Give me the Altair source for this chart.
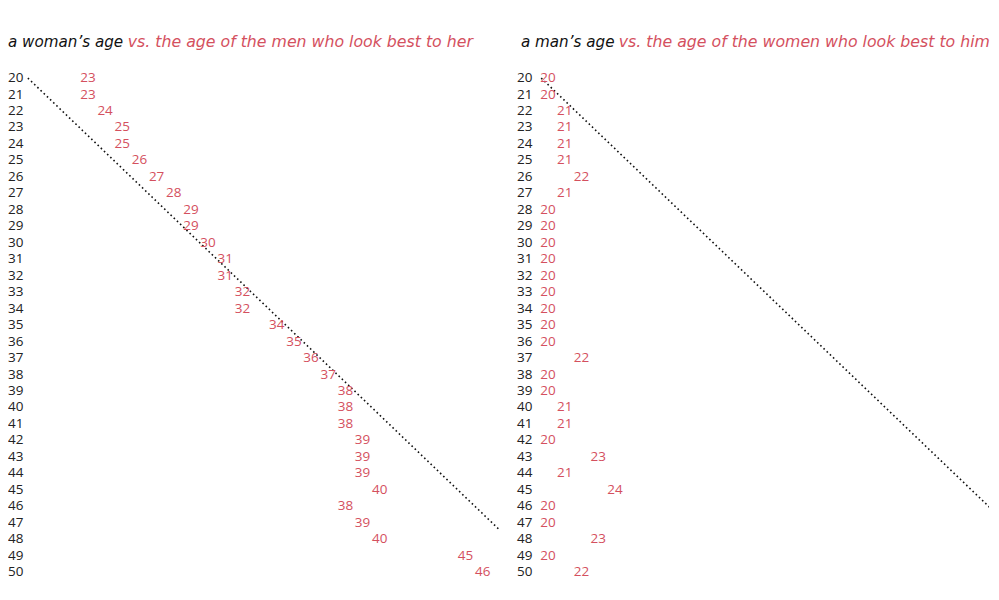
"""Age preference charts: a woman's / a man's age vs. the ages that look best."""

import altair as alt
import pandas as pd

# own age (rows)
AGES = list(range(20, 51))

# age of men who look best to a woman of each age
WOMAN_PREF = [23, 23, 24, 25, 25, 26, 27, 28, 29, 29, 30, 31, 31, 32, 32, 34,
              35, 36, 37, 38, 38, 38, 39, 39, 39, 40, 38, 39, 40, 45, 46]

# age of women who look best to a man of each age
MAN_PREF = [20, 20, 21, 21, 21, 21, 22, 21, 20, 20, 20, 20, 20, 20, 20, 20,
            20, 22, 20, 20, 21, 21, 20, 23, 21, 24, 20, 20, 23, 20, 22]

# dotted "same age" guide (value, row) end points
LEFT_LINE_VALUE = [19.5, 46.95]
LEFT_LINE_AGE = [20, 47.4]
RIGHT_LINE_VALUE = [19.6, 46.9]
RIGHT_LINE_AGE = [20, 46.6]

RED = "#d4505e"
INK = "#222222"
NUM_FONT = "Open Sans"
TITLE_FONT = "DejaVu Sans"
HEIGHT = 573
Y_DOMAIN = [15.78, 50.5]


def panel(pref, line_value, line_age, x_domain, width, title_black, title_red,
          title_x, red_x):
    df = pd.DataFrame({"age": AGES, "pref": pref})
    guide = pd.DataFrame({"value": line_value, "age": line_age})

    x = alt.X("pref:Q", scale=alt.Scale(domain=x_domain, nice=False, zero=False), axis=None)
    y = alt.Y("age:Q", scale=alt.Scale(domain=Y_DOMAIN, reverse=True, nice=False, zero=False),
              axis=None)

    base = alt.Chart(df)
    labels = base.mark_text(align="left", baseline="middle", font=NUM_FONT,
                            fontSize=13.5, color=INK).encode(
        x=alt.value(0), y=y, text="age:N")
    prefs = base.mark_text(align="center", baseline="middle", font=NUM_FONT,
                           fontSize=13.5, color=RED).encode(
        x=x, y=y, text="pref:N")
    line = alt.Chart(guide).mark_line(
        color="#111111", strokeWidth=1.6, strokeDash=[1.6, 2.8], clip=True
    ).encode(
        x=alt.X("value:Q", scale=alt.Scale(domain=x_domain, nice=False, zero=False), axis=None),
        y=alt.Y("age:Q", scale=alt.Scale(domain=Y_DOMAIN, reverse=True, nice=False, zero=False),
                axis=None),
    )

    t1 = alt.Chart(pd.DataFrame({"t": [title_black]})).mark_text(
        align="left", baseline="alphabetic", font=TITLE_FONT, fontSize=15.2,
        fontStyle="italic", color="#111111"
    ).encode(x=alt.value(title_x), y=alt.value(38), text="t:N")
    t2 = alt.Chart(pd.DataFrame({"t": [title_red]})).mark_text(
        align="left", baseline="alphabetic", font=TITLE_FONT, fontSize=15.8,
        fontStyle="italic", color=RED
    ).encode(x=alt.value(red_x), y=alt.value(38), text="t:N")

    return alt.layer(line, labels, prefs, t1, t2).properties(width=width, height=HEIGHT)


left = panel(WOMAN_PREF, LEFT_LINE_VALUE, LEFT_LINE_AGE, [18.343, 46.95], 492,
             "a woman\u2019s age", "vs. the age of the men who look best to her", 0, 120)
right = panel(MAN_PREF, RIGHT_LINE_VALUE, RIGHT_LINE_AGE, [18.155, 46.31], 473,
              "a man\u2019s age", "vs. the age of the women who look best to him", 4, 102)

chart = (
    alt.hconcat(left, right, spacing=18)
    .properties(padding=0)
    .configure(background="white")
    .configure_view(stroke=None)
)

chart.save("out.html", embed_options={"renderer": "svg", "actions": False})
